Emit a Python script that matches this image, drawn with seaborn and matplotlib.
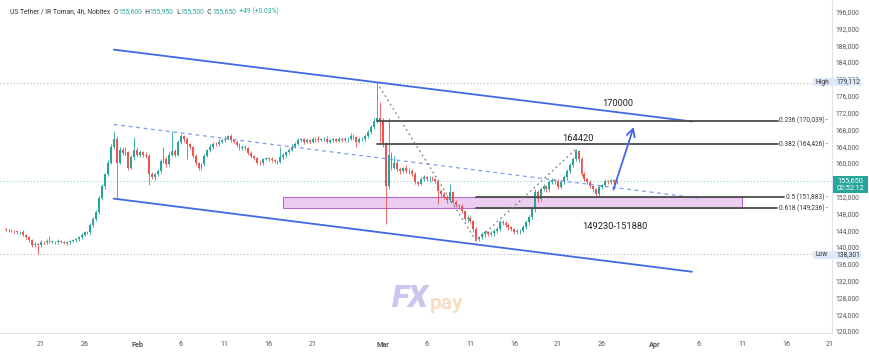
import numpy as np
import pandas as pd
import matplotlib
matplotlib.use("Agg")
import matplotlib.pyplot as plt
import matplotlib.dates as mdates
from matplotlib.patches import Rectangle
import seaborn as sns

# ---------------- data (prices in thousands of Toman, 8h candles) ----------------
candle_start = "2026-01-17 00:00"
candle_freq = "8h"
first_open = 144.2
closes = [
    144.0, 144.0, 143.8, 143.7, 143.5, 143.6, 142.8, 142.3, 141.6, 140.4,
    140.7, 140.4, 141.2, 141.1, 141.4, 141.2, 141.2, 141.1, 141.4, 141.2,
    140.9, 141.1, 141.4, 141.6, 141.9, 142.3, 142.8, 143.5, 143.5, 145.2,
    146.6, 148.3, 151.6, 154.4, 157.3, 160.1, 163.9, 165.6, 160.1, 163.2,
    162.3, 162.5, 158.9, 161.3, 163.2, 162.0, 162.5, 162.0, 161.6, 157.3,
    156.6, 157.3, 158.0, 160.4, 160.9, 159.7, 162.0, 162.8, 162.0, 164.9,
    166.3, 165.6, 164.4, 163.7, 161.6, 159.9, 158.9, 159.7, 161.6, 163.0,
    163.9, 164.6, 164.4, 165.1, 165.4, 165.8, 166.3, 165.4, 165.1, 164.2,
    163.5, 163.9, 163.5, 162.3, 161.6, 161.1, 160.1, 159.9, 160.9, 161.1,
    160.9, 160.6, 160.4, 160.2, 161.3, 161.8, 162.5, 163.2, 163.9, 164.6,
    165.4, 165.6, 165.1, 165.4, 165.1, 165.6, 165.8, 165.5, 165.6, 165.8,
    165.1, 165.4, 165.6, 165.3, 165.6, 165.4, 165.6, 165.8, 166.5, 166.1,
    165.1, 165.6, 165.8, 166.3, 167.3, 168.5, 169.9, 170.8, 170.1, 164.4,
    154.4, 162.0, 158.9, 160.1, 158.5, 158.0, 158.7, 158.0, 158.2, 157.3,
    155.4, 155.1, 156.1, 156.6, 156.1, 156.3, 156.1, 155.6, 153.3, 152.5,
    151.8, 151.1, 153.0, 150.6, 149.9, 149.7, 148.5, 146.6, 146.9, 146.1,
    144.2, 141.9, 142.3, 143.0, 143.5, 143.0, 143.3, 143.8, 144.2, 145.9,
    145.7, 145.2, 144.7, 144.2, 143.5, 143.7, 143.9, 144.7, 145.9, 147.1,
    149.0, 153.0, 151.4, 153.7, 154.4, 153.7, 155.4, 155.9, 155.6, 154.2,
    155.4, 156.6, 158.0, 159.4, 160.9, 162.8, 160.9, 157.3, 156.1, 155.4,
    154.4, 153.7, 152.5, 154.2, 154.7, 155.6, 155.4, 155.9, 155.4, 155.65,
]
upper_wick = [
    0.3, 0.2, 0.4, 0.3, 0.2, 0.3, 0.4, 0.2, 0.3, 0.3,
    0.4, 0.3, 0.5, 0.3, 0.4, 1.2, 0.3, 0.2, 0.4, 0.3,
    0.3, 0.2, 0.3, 0.4, 0.3, 0.3, 0.5, 0.4, 0.3, 0.4,
    0.5, 0.4, 0.6, 0.5, 0.4, 0.6, 0.5, 2.0, 0.8, 0.6,
    0.5, 1.2, 0.4, 0.6, 2.9, 0.5, 0.6, 0.4, 0.5, 0.6,
    0.5, 0.4, 0.6, 0.5, 3.0, 0.4, 0.6, 4.8, 0.5, 0.6,
    0.5, 0.4, 0.5, 0.3, 0.4, 0.5, 0.3, 0.4, 0.5, 0.4,
    0.5, 0.4, 0.3, 0.5, 0.4, 0.6, 0.4, 0.5, 0.3, 0.4,
    0.5, 0.4, 0.3, 0.4, 0.5, 0.3, 0.4, 0.5, 0.3, 0.4,
    0.3, 0.4, 0.3, 0.4, 2.4, 0.5, 0.4, 0.3, 0.5, 0.4,
    0.5, 0.4, 0.3, 0.5, 0.4, 0.6, 0.4, 0.5, 0.3, 0.4,
    0.5, 0.4, 0.3, 0.4, 0.5, 0.3, 0.6, 0.4, 0.7, 0.5,
    0.4, 0.5, 0.4, 0.6, 0.5, 0.6, 0.7, 8.3, 3.8, 0.5,
    0.5, 8.8, 0.6, 1.5, 0.5, 0.6, 0.4, 0.7, 0.5, 0.4,
    0.5, 0.4, 0.6, 0.5, 0.4, 0.5, 0.6, 0.4, 0.5, 0.4,
    0.5, 0.6, 1.9, 0.4, 0.5, 0.4, 0.5, 0.4, 0.6, 0.5,
    0.4, 0.5, 0.4, 0.6, 0.5, 0.4, 0.5, 0.4, 0.5, 0.6,
    0.5, 0.4, 0.5, 0.4, 0.3, 0.5, 0.4, 0.5, 0.6, 0.5,
    0.6, 0.7, 0.5, 0.6, 0.5, 0.4, 0.6, 0.5, 0.4, 0.5,
    0.4, 0.5, 0.6, 0.5, 0.6, 0.5, 0.4, 0.5, 0.6, 0.4,
    0.5, 0.4, 0.3, 0.5, 0.4, 0.5, 0.4, 0.3, 0.4, 0.3,
]
lower_wick = [
    0.3, 0.4, 0.2, 0.3, 0.4, 0.3, 0.2, 0.4, 0.3, 0.5,
    0.4, 2.1, 0.3, 0.4, 0.3, 0.2, 0.3, 0.4, 0.3, 0.2,
    0.3, 0.4, 0.3, 0.2, 0.3, 0.4, 0.3, 0.2, 0.4, 0.3,
    0.4, 0.3, 0.5, 0.4, 0.5, 0.4, 0.3, 0.5, 8.7, 0.4,
    0.5, 0.4, 0.6, 0.4, 0.5, 0.4, 0.6, 0.5, 0.4, 2.6,
    0.5, 0.6, 0.4, 0.5, 0.4, 0.6, 0.5, 0.4, 0.5, 0.4,
    0.4, 0.5, 3.5, 0.4, 0.5, 0.4, 0.6, 0.5, 0.4, 0.3,
    0.4, 0.5, 0.4, 0.3, 0.4, 0.5, 0.4, 0.3, 0.4, 0.5,
    0.4, 0.5, 0.4, 0.3, 0.5, 0.4, 0.3, 0.5, 0.4, 0.3,
    0.4, 0.3, 0.4, 0.5, 0.3, 0.4, 0.3, 0.4, 0.3, 0.4,
    0.3, 0.4, 0.5, 0.3, 0.4, 0.3, 0.5, 0.4, 0.3, 0.4,
    0.4, 0.3, 0.5, 0.4, 0.3, 0.4, 0.3, 0.5, 0.4, 0.3,
    1.4, 0.4, 0.3, 0.5, 0.4, 0.3, 0.5, 0.4, 5.2, 0.6,
    9.0, 0.5, 0.6, 0.4, 0.5, 0.6, 0.4, 0.5, 0.6, 0.4,
    0.5, 0.6, 0.4, 0.5, 0.4, 0.6, 0.5, 0.4, 3.1, 0.5,
    0.4, 0.6, 0.5, 0.4, 0.5, 0.6, 0.4, 0.5, 0.6, 0.5,
    0.6, 0.5, 0.4, 0.5, 0.6, 0.4, 0.5, 0.6, 0.4, 0.5,
    0.4, 0.5, 0.6, 0.4, 0.5, 0.4, 0.5, 0.4, 0.5, 0.6,
    0.5, 0.6, 0.7, 0.5, 0.4, 0.6, 0.5, 0.4, 0.6, 0.5,
    0.4, 0.5, 0.6, 0.5, 0.4, 0.5, 0.6, 0.5, 0.4, 0.5,
    0.4, 0.5, 0.6, 0.5, 0.4, 0.5, 0.4, 0.3, 0.4, 0.3,
]

# drawing objects (dates / prices)
channel_dates = ["2026-01-29 08:00", "2026-04-05 06:00"]
channel_upper_prices = [186975, 169875]
channel_lower_prices = [151516, 134108]
midline_dates = ["2026-01-29 08:00", "2026-04-06 00:00"]
midline_prices = [169162, 151635]

fib_names = ["0.236", "0.382", "0.5", "0.618"]
fib_prices = [170039, 164426, 151883, 149236]
fib_starts = ["2026-02-28 08:00", "2026-02-28 08:00", "2026-03-11 16:00", "2026-03-11 16:00"]
fib_ends = ["2026-04-15 01:00", "2026-04-15 01:00", "2026-04-15 18:00", "2026-04-14 23:00"]

zone_dates = ["2026-02-17 14:00", "2026-04-10 22:00"]
zone_prices = [149230, 151880]

swing_dates = ["2026-02-28 08:00", "2026-03-11 16:00", "2026-03-23 00:00"]
swing_prices = [179112, 141400, 163225]

arrow_dates = ["2026-03-27 05:00", "2026-03-29 17:00"]
arrow_prices = [153012, 169162]

label_texts = ["170000", "164420", "149230-151880"]
label_dates = ["2026-03-27 20:00", "2026-03-23 07:00", "2026-03-27 11:00"]
label_prices = [174150, 165840, 144940]

high_price = 179112
low_price = 138301
last_price = 155650
countdown = "02:52:12"

y_ticks = list(range(120000, 196001, 4000))
x_tick_dates = ["2026-01-21", "2026-01-26", "2026-02-01", "2026-02-06", "2026-02-11",
                "2026-02-16", "2026-02-21", "2026-03-01", "2026-03-06", "2026-03-11",
                "2026-03-16", "2026-03-21", "2026-03-26", "2026-04-01", "2026-04-06",
                "2026-04-11", "2026-04-16", "2026-04-21"]
x_tick_labels = ["21", "26", "Feb", "6", "11", "16", "21", "Mar", "6", "11", "16",
                 "21", "26", "Apr", "6", "11", "16", "21"]

header = [("US Tether / IR Toman, 4h, Nobitex  ", "dark"), ("O", "dark"), ("155,600", "g"),
          ("  H", "dark"), ("155,950", "g"), ("  L", "dark"), ("155,500", "g"),
          ("  C", "dark"), ("155,650", "g"), ("  +49 (+0.03%)", "g")]

# ---------------- style ----------------
sns.set_style("white")
plt.rcParams["font.family"] = ["Roboto", "DejaVu Sans"]

GREEN = "#26a69a"
RED = "#ef5350"
BLUE = "#4169e1"
AXFS = 4.9

W, H = 870, 357
fig = plt.figure(figsize=(W / 100, H / 100), dpi=100)
fig.patch.set_facecolor("white")
ax = fig.add_axes([0, 24 / H, 832 / W, 333 / H])
ax.set_facecolor("white")


def d2n(s):
    return mdates.date2num(pd.to_datetime(s))


# candles
times = pd.date_range(candle_start, periods=len(closes), freq=candle_freq)
xn = mdates.date2num(times)
c = np.array(closes) * 1000
o = np.concatenate([[first_open * 1000], c[:-1]])
hi = np.maximum(o, c) + np.array(upper_wick) * 1000
lo = np.minimum(o, c) - np.array(lower_wick) * 1000
up = c >= o
cols = np.where(up, GREEN, RED)
body_h = np.maximum(np.abs(c - o), 120)
ax.vlines(xn, lo, hi, colors=cols, linewidth=0.6, zorder=3)
ax.bar(xn, body_h, bottom=np.minimum(o, c), width=0.22, color=cols, linewidth=0, zorder=4)

x0 = d2n("2026-01-21") - 40.7 / 8.77
x1 = d2n("2026-01-21") + (832 - 40.7) / 8.77
ax.set_xlim(x0, x1)
ax.set_ylim(196000 - 321.3 * 238.0, 196000 + 11.7 * 238.0)

# horizontal dotted reference lines
ax.axhline(high_price, color="#b2b5be", lw=0.8, ls=(0, (1, 2)), zorder=1)
ax.axhline(low_price, color="#b2b5be", lw=0.8, ls=(0, (1, 2)), zorder=1)
ax.axhline(last_price, color=GREEN, lw=0.8, ls=(0, (1, 2)), alpha=0.5, zorder=1)

# zone
zx = [d2n(s) for s in zone_dates]
ax.add_patch(Rectangle((zx[0], zone_prices[0]), zx[1] - zx[0], zone_prices[1] - zone_prices[0],
                       facecolor="#ebcdf0", edgecolor="#b26bc6", lw=0.8, zorder=2))

# channel
cx = [d2n(s) for s in channel_dates]
sns.lineplot(x=cx, y=channel_upper_prices, ax=ax, color=BLUE, lw=1.3, zorder=5)
sns.lineplot(x=cx, y=channel_lower_prices, ax=ax, color=BLUE, lw=1.3, zorder=5)
mx = [d2n(s) for s in midline_dates]
ax.plot(mx, midline_prices, color="#7f9bf0", lw=0.9, ls=(0, (3, 3)), zorder=5)

# fib levels
for name, p, s, e in zip(fib_names, fib_prices, fib_starts, fib_ends):
    ax.plot([d2n(s), d2n(e)], [p, p], color="#4d4d4d", lw=1.3, zorder=5)
    ax.annotate(f"{name} ({p:,}) -", xy=(d2n(e), p), xytext=(1.2, 0), textcoords="offset points",
                ha="left", va="center", fontsize=4.7, color="#333333", annotation_clip=False)

# swing dotted lines
sx = [d2n(s) for s in swing_dates]
ax.plot(sx, swing_prices, color="#808080", lw=0.9, ls=(0, (1.5, 2.5)), zorder=5)

# arrow
ax.annotate("", xy=(d2n(arrow_dates[1]), arrow_prices[1]),
            xytext=(d2n(arrow_dates[0]), arrow_prices[0]),
            arrowprops=dict(arrowstyle="->,head_length=0.55,head_width=0.3", color=BLUE, lw=1.3),
            zorder=6)

for t, d, p in zip(label_texts, label_dates, label_prices):
    ax.text(d2n(d), p, t, ha="center", va="center", fontsize=6.7, color="#222222", zorder=6)

# axes formatting
for side in ["top", "left"]:
    ax.spines[side].set_visible(False)
ax.spines["right"].set_color("#e0e3eb")
ax.spines["bottom"].set_color("#e0e3eb")
ax.spines["right"].set_linewidth(0.8)
ax.spines["bottom"].set_linewidth(0.8)
ax.yaxis.tick_right()
ax.set_yticks(y_ticks)
# the 156,000 label sits under the last-price badge, as in the reference
ax.set_yticklabels(["" if v == 156000 else f"{v:,}" for v in y_ticks])
ax.set_xticks([d2n(s) for s in x_tick_dates])
ax.set_xticklabels(x_tick_labels)
ax.tick_params(axis="y", length=0, pad=2.2, labelsize=AXFS, labelcolor="#555555")
ax.tick_params(axis="x", length=0, pad=5.5, labelsize=5.2, labelcolor="#555555")
for lbl in ax.get_xticklabels():
    if lbl.get_text() in ("Feb", "Mar", "Apr"):
        lbl.set_fontweight("bold")
ax.grid(False)

# watermark
wm = fig.text(392 / W, 1 - 307 / H, "FX", fontsize=23, fontweight="heavy", fontstyle="italic",
              color="#ccc6ee", va="baseline", ha="left")
ax.annotate("pay", xy=(1, 0), xycoords=wm, xytext=(0.5, 0), textcoords="offset points",
            va="bottom", ha="left", fontsize=15, fontweight="bold", color="#f6ddc4",
            annotation_clip=False)

# header
HFS = 4.9
colmap = {"dark": "#333333", "g": GREEN}
t = fig.text(10 / W, 1 - 12 / H, header[0][0], fontsize=HFS, color=colmap[header[0][1]], va="center")
for s, k in header[1:]:
    t = ax.annotate(s, xy=(1, 0), xycoords=t, va="bottom", ha="left", fontsize=HFS,
                    color=colmap[k], annotation_clip=False)


# right-axis price badges
def badge(y_px, label, value):
    fig.patches.append(Rectangle((813 / W, 1 - (y_px + 4) / H), 48 / W, 8 / H,
                                 transform=fig.transFigure, facecolor="#dde8fa",
                                 edgecolor="none", zorder=10))
    fig.text(816 / W, 1 - y_px / H, label, fontsize=AXFS, color="#333333", va="center",
             ha="left", zorder=11)
    fig.text(836 / W, 1 - y_px / H, value, fontsize=AXFS, color="#333333", va="center",
             ha="left", zorder=11)


badge(82, "High", f"{high_price:,}")
badge(255, "Low", f"{low_price:,}")

fig.patches.append(Rectangle((833 / W, 1 - 193 / H), 35 / W, 17 / H, transform=fig.transFigure,
                             facecolor=GREEN, edgecolor="none", zorder=10))
fig.text(850.5 / W, 1 - 180.5 / H, f"{last_price:,}", fontsize=5.2, color="white",
         ha="center", va="center", zorder=11)
fig.text(850.5 / W, 1 - 188.5 / H, countdown, fontsize=5.2, color="white",
         ha="center", va="center", zorder=11)

fig.savefig("out.png", dpi=100, facecolor="white")
